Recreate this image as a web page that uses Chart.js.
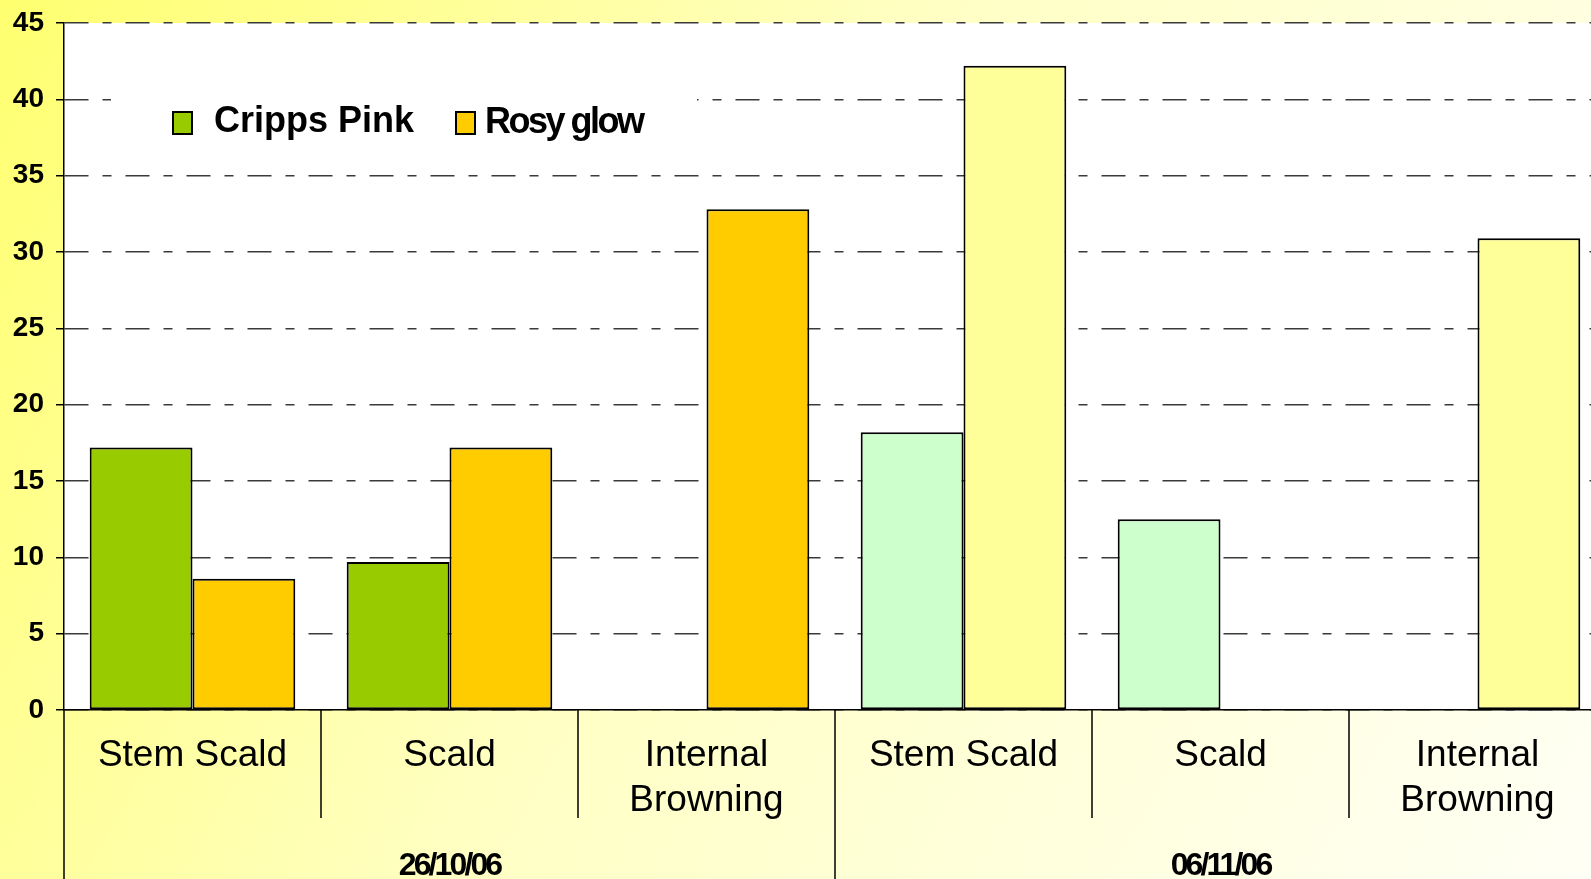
<!DOCTYPE html>
<html>
<head>
<meta charset="utf-8">
<script src="https://cdn.jsdelivr.net/npm/chart.js@4.4.1/dist/chart.umd.min.js"></script>
<style>
  html, body { margin: 0; padding: 0; overflow: hidden; }
  canvas { display: block; }
</style>
</head>
<body>
<!-- canvas is a bit wider than the window: the source picture cuts the plot off on the right -->
<canvas id="myChart" width="1606" height="879"></canvas>
<script>
const categories = [
  "Stem Scald",
  "Scald",
  ["Internal", "Browning"],
  "Stem Scald",
  "Scald",
  ["Internal", "Browning"],
];
const dates = ["26/10/06", "06/11/06"];
const crippsPink = [17.2, 9.7, null, 18.2, 12.5, null];
const rosyGlow = [8.6, 17.2, 32.8, 42.2, null, 30.9];
const yTicks = [0, 5, 10, 15, 20, 25, 30, 35, 40, 45];

const PinkColor = "#99CC00";
const PinkLight = "#CCFFCC";
const RosyColor = "#FFCC00";
const RosyLight = "#FFFF99";
const sans = "'Liberation Sans', Arial, sans-serif";

// page background gradient + white plot area
const backdrop = {
  id: "backdrop",
  beforeDraw(chart) {
    const { ctx, width, height, chartArea: a } = chart;
    const g = ctx.createLinearGradient(0, 0, width, height);
    g.addColorStop(0, "#FFFF70");
    g.addColorStop(0.45, "#FFFFC4");
    g.addColorStop(1, "#FFFFF6");
    ctx.save();
    ctx.fillStyle = g;
    ctx.fillRect(0, 0, width, height);
    ctx.fillStyle = "#FFFFFF";
    ctx.fillRect(a.left, a.top, a.right - a.left, a.bottom - a.top);
    ctx.restore();
  },
};

// separators and date labels in the band under the plot
const lowerBand = {
  id: "lowerBand",
  afterDraw(chart) {
    const { ctx, height, chartArea: a } = chart;
    const x = chart.scales.x;
    const edges = [a.left];
    for (let i = 1; i < categories.length; i++) {
      edges.push((x.getPixelForValue(i - 1) + x.getPixelForValue(i)) / 2);
    }
    edges.push(a.right);
    ctx.save();
    ctx.strokeStyle = "#000";
    ctx.lineWidth = 1.5;
    ctx.beginPath();
    ctx.moveTo(a.left, a.bottom);
    ctx.lineTo(a.left, height);
    for (let i = 1; i < categories.length; i++) {
      ctx.moveTo(edges[i], a.bottom);
      ctx.lineTo(edges[i], i === 3 ? height : a.bottom + 108);
    }
    ctx.stroke();

    ctx.fillStyle = "#000";
    ctx.font = "bold 32px " + sans;
    ctx.letterSpacing = "-2.9px";
    ctx.textAlign = "center";
    ctx.textBaseline = "alphabetic";
    ctx.fillText(dates[0], (edges[0] + edges[3]) / 2, height - 4);
    ctx.fillText(dates[1], (edges[3] + edges[6]) / 2, height - 4);
    ctx.restore();
  },
};

// legend sitting inside the plot on a white patch
const innerLegend = {
  id: "innerLegend",
  afterDatasetsDraw(chart) {
    const { ctx, chartArea: a } = chart;
    const top = a.top;
    const left = a.left;
    ctx.save();
    ctx.fillStyle = "#FFFFFF";
    ctx.fillRect(left + 47, top + 55, 586, 60);
    const items = [
      { text: chart.data.datasets[0].label, color: PinkColor, box: 109, tx: 150, ty: 109, sp: "0px" },
      { text: chart.data.datasets[1].label, color: RosyColor, box: 392, tx: 421, ty: 110, sp: "-2.5px" },
    ];
    items.forEach((it) => {
      ctx.fillStyle = it.color;
      ctx.strokeStyle = "#000";
      ctx.lineWidth = 2;
      ctx.fillRect(left + it.box, top + 89, 19, 22);
      ctx.strokeRect(left + it.box, top + 89, 19, 22);
      ctx.fillStyle = "#000";
      ctx.font = "bold 36px " + sans;
      ctx.letterSpacing = it.sp;
      ctx.textBaseline = "alphabetic";
      ctx.fillText(it.text, left + it.tx, top + it.ty);
    });
    ctx.restore();
  },
};

const ctx = document.getElementById("myChart").getContext("2d");
const myChart = new Chart(ctx, {
  type: "bar",
  data: {
    labels: categories,
    datasets: [
      {
        label: "Cripps Pink",
        data: crippsPink,
        backgroundColor: [PinkColor, PinkColor, PinkColor, PinkLight, PinkLight, PinkLight],
        borderColor: "#000",
        borderWidth: 2,
        borderSkipped: false,
      },
      {
        label: "Rosy glow",
        data: rosyGlow,
        backgroundColor: [RosyColor, RosyColor, RosyColor, RosyLight, RosyLight, RosyLight],
        borderColor: "#000",
        borderWidth: 2,
        borderSkipped: false,
      },
    ],
  },
  options: {
    responsive: false,
    animation: false,
    devicePixelRatio: 1,
    categoryPercentage: 0.8,
    barPercentage: 1.0,
    layout: { padding: { top: 23, right: 0, left: 0, bottom: 0 } },
    plugins: {
      legend: { display: false },
      tooltip: { enabled: false },
    },
    scales: {
      x: {
        position: "bottom",
        grid: { display: false, drawTicks: false },
        border: { display: true, color: "#000", width: 1.5 },
        ticks: {
          color: "#000",
          font: { family: sans, size: 37, lineHeight: 1.216 },
          padding: 23,
          maxRotation: 0,
          autoSkip: false,
        },
        afterFit(scale) { scale.height = 169; },
      },
      y: {
        min: 0,
        max: 45,
        afterBuildTicks(scale) { scale.ticks = yTicks.map((v) => ({ value: v })); },
        grid: {
          color: "#3A3A3A",
          lineWidth: 1.5,
          tickLength: 8,
          tickColor: "#000",
          tickBorderDash: [],
        },
        border: { display: true, color: "#000", width: 1.5, dash: [24, 14, 9, 14] },
        ticks: {
          color: "#000",
          font: { family: sans, size: 28, weight: "bold", lineHeight: 0.4 },
          padding: 12,
        },
        afterFit(scale) { scale.width = 64; },
      },
    },
  },
  plugins: [backdrop, innerLegend, lowerBand],
});
</script>
</body>
</html>
